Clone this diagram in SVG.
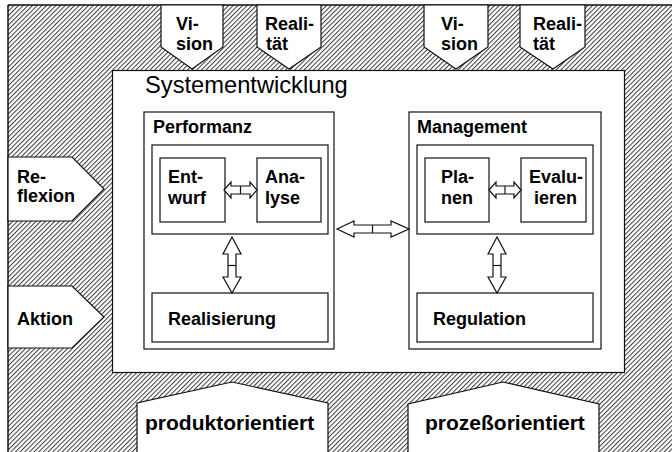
<svg xmlns="http://www.w3.org/2000/svg" width="672" height="452" viewBox="0 0 672 452">
  <defs>
    <!-- diagonal hatching for the surrounding environment band -->
    <pattern id="hatch" width="3.3" height="3.3" patternUnits="userSpaceOnUse" patternTransform="rotate(45)">
      <rect width="3.3" height="3.3" fill="#ffffff"/>
      <line x1="0.5" y1="0" x2="0.5" y2="3.3" stroke="#333333" stroke-width="0.95"/>
    </pattern>
  </defs>
  <style>
    .box { fill: #ffffff; stroke: #111111; stroke-width: 1.2; }
    .tag { fill: #ffffff; stroke: #111111; stroke-width: 1.2; stroke-linejoin: miter; }
    .arrow { fill: #ffffff; stroke: #111111; stroke-width: 1.2; stroke-linejoin: miter; }
    .sep { stroke: #111111; stroke-width: 1.2; }
    .lbl { font-family: "Liberation Sans", Arial, sans-serif; font-weight: bold; font-size: 18px; fill: #000000; }
    .big { font-family: "Liberation Sans", Arial, sans-serif; font-weight: bold; font-size: 21px; fill: #000000; }
    .title { font-family: "Liberation Sans", Arial, sans-serif; font-size: 23.7px; fill: #000000; }
  </style>

  <!-- environment band -->
  <g id="environment">
    <rect x="8" y="5" width="670" height="452" fill="url(#hatch)"/>
    <line x1="8" y1="5" x2="672" y2="5" stroke="#111111" stroke-width="1.5"/>
    <line x1="8" y1="5" x2="8" y2="452" stroke="#111111" stroke-width="1.5"/>
  </g>

  <!-- system development area -->
  <g id="systementwicklung">
    <rect class="box" x="112.5" y="70.5" width="512" height="302"/>
    <text class="title" x="145" y="93">Systementwicklung</text>
  </g>

  <!-- input tags along the top -->
  <g id="vision-1">
    <polygon class="tag" points="161,5 223,5 223,47 192,69 161,47"/>
    <text class="lbl" x="176" y="30">Vi-</text>
    <text class="lbl" x="176" y="50">sion</text>
  </g>
  <g id="realitaet-1">
    <polygon class="tag" points="257,5 321,5 321,47 289,69 257,47"/>
    <text class="lbl" x="265" y="30">Reali-</text>
    <text class="lbl" x="266" y="50">tät</text>
  </g>
  <g id="vision-2">
    <polygon class="tag" points="424,5 488,5 488,47 456,69 424,47"/>
    <text class="lbl" x="441" y="30">Vi-</text>
    <text class="lbl" x="441" y="50">sion</text>
  </g>
  <g id="realitaet-2">
    <polygon class="tag" points="520,5 585,5 585,47 553,69 520,47"/>
    <text class="lbl" x="533" y="30">Reali-</text>
    <text class="lbl" x="533" y="50">tät</text>
  </g>

  <!-- input tags on the left -->
  <g id="reflexion">
    <polygon class="tag" points="8,157 72,157 104,189 72,221 8,221"/>
    <text class="lbl" x="17" y="183">Re-</text>
    <text class="lbl" x="17" y="202">flexion</text>
  </g>
  <g id="aktion">
    <polygon class="tag" points="8,286 72,286 104,317 72,348 8,348"/>
    <text class="lbl" x="17" y="325">Aktion</text>
  </g>

  <!-- output tags at the bottom -->
  <g id="produktorientiert">
    <polygon class="tag" points="137,460 137,403 232,382 328,403 328,460"/>
    <text class="big" x="145" y="430">produktorientiert</text>
  </g>
  <g id="prozessorientiert">
    <polygon class="tag" points="408,460 408,404 503,382 599,404 599,460"/>
    <text class="big" x="425" y="430">prozeßorientiert</text>
  </g>

  <!-- Performanz column -->
  <g id="performanz">
    <rect class="box" x="144" y="112" width="190" height="237"/>
    <text class="lbl" x="153" y="133">Performanz</text>
    <rect class="box" x="152" y="145" width="176" height="89"/>
  </g>
  <g id="entwurf">
    <rect class="box" x="160" y="158" width="65" height="64"/>
    <text class="lbl" x="168" y="183">Ent-</text>
    <text class="lbl" x="168" y="204">wurf</text>
  </g>
  <g id="analyse">
    <rect class="box" x="257" y="158" width="64" height="64"/>
    <text class="lbl" x="265" y="183">Ana-</text>
    <text class="lbl" x="265" y="204">lyse</text>
  </g>
  <g id="realisierung">
    <rect class="box" x="152" y="293" width="176" height="49"/>
    <text class="lbl" x="168" y="325">Realisierung</text>
  </g>

  <!-- Management column -->
  <g id="management">
    <rect class="box" x="409" y="112" width="192" height="237"/>
    <text class="lbl" x="417" y="133">Management</text>
    <rect class="box" x="417" y="145" width="176" height="89"/>
  </g>
  <g id="planen">
    <rect class="box" x="425" y="158" width="64" height="64"/>
    <text class="lbl" x="441" y="183">Pla-</text>
    <text class="lbl" x="441" y="204">nen</text>
  </g>
  <g id="evaluieren">
    <rect class="box" x="521" y="158" width="65" height="64"/>
    <text class="lbl" x="529" y="183">Evalu-</text>
    <text class="lbl" x="534" y="204">ieren</text>
  </g>
  <g id="regulation">
    <rect class="box" x="417" y="293" width="176" height="49"/>
    <text class="lbl" x="433" y="325">Regulation</text>
  </g>

  <!-- hollow double-headed connectors -->
  <g id="connectors">
    <!-- Entwurf <-> Analyse -->
    <polygon class="arrow" points="224,190 231,182 231,186 250,186 250,182 257,190 250,198 250,194 231,194 231,198"/>
    <line class="sep" x1="240.5" y1="186" x2="240.5" y2="194"/>
    <!-- Planen <-> Evaluieren -->
    <polygon class="arrow" points="489,190 496,182 496,186 514,186 514,182 521,190 514,198 514,194 496,194 496,198"/>
    <line class="sep" x1="505" y1="186" x2="505" y2="194"/>
    <!-- Performanz <-> Management -->
    <polygon class="arrow" points="337,229 354,221 354,225 391,225 391,221 409,229 391,237 391,233 354,233 354,237"/>
    <line class="sep" x1="372.5" y1="225" x2="372.5" y2="233"/>
    <!-- Entwurf/Analyse <-> Realisierung -->
    <polygon class="arrow" points="232,237 241,254 236,254 236,277 241,277 232,293 223,277 228,277 228,254 223,254"/>
    <line class="sep" x1="228" y1="265.5" x2="236" y2="265.5"/>
    <!-- Planen/Evaluieren <-> Regulation -->
    <polygon class="arrow" points="497,237 506,254 501,254 501,277 506,277 497,293 488,277 493,277 493,254 488,254"/>
    <line class="sep" x1="493" y1="265.5" x2="501" y2="265.5"/>
  </g>
</svg>
